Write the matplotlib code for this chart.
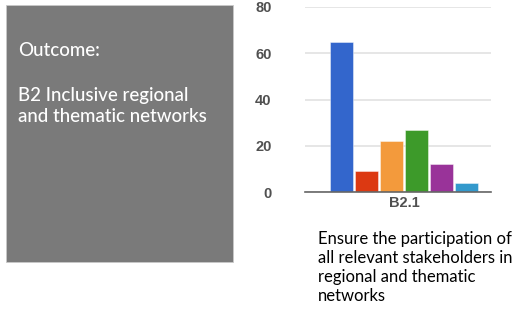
import matplotlib.pyplot as plt
from matplotlib.patches import Rectangle

# data
values = [65, 9, 22, 27, 12, 4]
colors = ['#3366cc', '#dc3912', '#f39a3c', '#3d9a2a', '#993399', '#3399cc']
group_label = 'B2.1'
y_ticks = [0, 20, 40, 60, 80]
box_title = 'Outcome:'
box_text = 'B2 Inclusive regional\nand thematic networks'
caption = 'Ensure the participation of\nall relevant stakeholders in\nregional and thematic\nnetworks'

fig = plt.figure(figsize=(5.12, 3.12), dpi=100)

# grey outcome box
fig.patches.append(Rectangle((6 / 512, 1 - 262 / 312), 227 / 512, 257 / 312,
                             transform=fig.transFigure, facecolor='#7a7a7a',
                             edgecolor='#c8c8c8', linewidth=0.6))
fig.text(18 / 512, 1 - 50 / 312, box_title, color='white', family='Lato',
         fontsize=13.5, va='center', ha='left', fontweight='medium')
fig.text(18 / 512, 1 - 87 / 312, box_text, color='white', family='Lato',
         fontsize=13.5, va='top', ha='left', linespacing=1.25, fontweight='medium')

# bar chart
ax = fig.add_axes([305 / 512, 1 - 192 / 312, 186 / 512, 185 / 312])
x = list(range(len(values)))
ax.bar(x, values, width=0.92, color=colors, edgecolor=(1, 1, 1, 0.5), linewidth=0.6, zorder=3)
ax.set_ylim(0, 80)
ax.set_xlim(-1.46, 5.98)
ax.set_yticks(y_ticks)
ax.set_xticks([(len(values) - 1) / 2])
ax.set_xticklabels([group_label])
ax.grid(axis='y', color='#e2e2e2', linewidth=1.2, zorder=0)
for s in ['top', 'right', 'left']:
    ax.spines[s].set_visible(False)
ax.spines['bottom'].set_color('#666666')
ax.spines['bottom'].set_linewidth(1.2)
ax.spines['bottom'].set_zorder(4)
ax.tick_params(length=0, labelsize=10.5, labelcolor='#505050', pad=3)
ax.tick_params(axis='y', pad=24)
for lbl in ax.get_yticklabels() + ax.get_xticklabels():
    lbl.set_family('Liberation Sans')
    lbl.set_fontweight('bold')

fig.text(318 / 512, 1 - 231 / 312, caption, color='black', family='Lato',
         fontsize=12, va='top', ha='left', linespacing=1.22)

fig.savefig('out.png', dpi=100)
